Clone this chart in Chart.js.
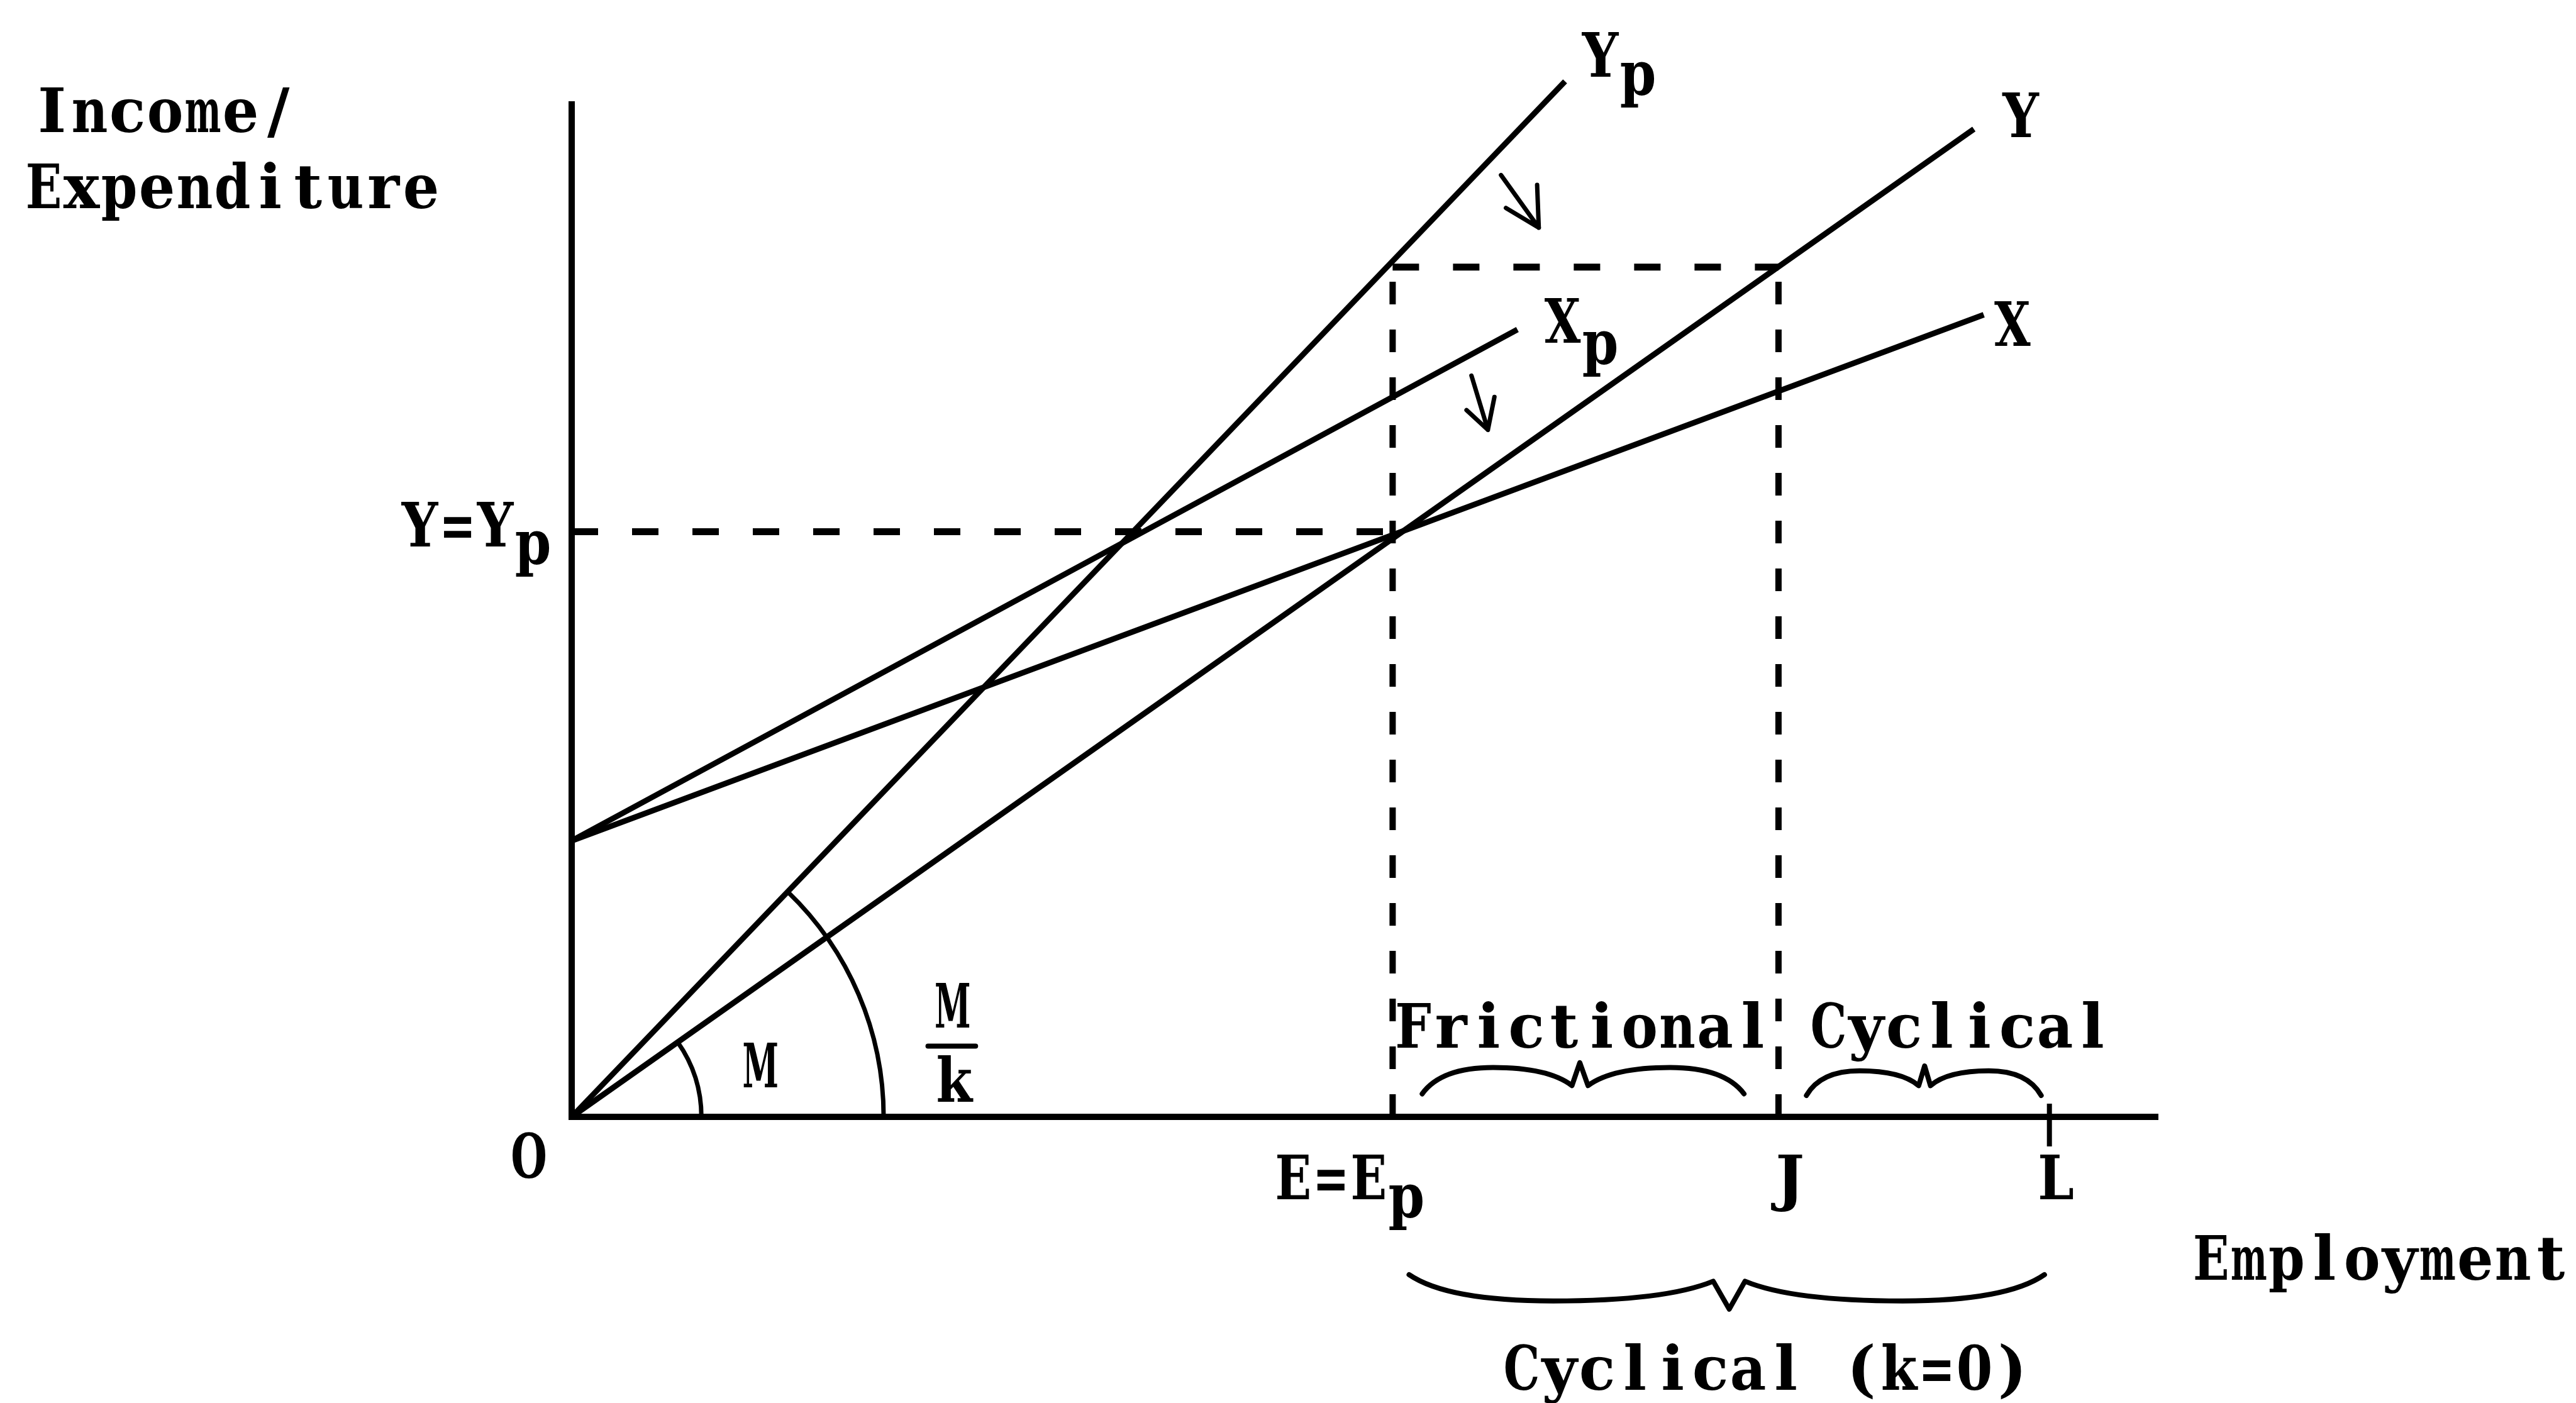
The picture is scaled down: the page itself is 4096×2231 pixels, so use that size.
<!DOCTYPE html>
<html>
<head>
<meta charset="utf-8">
<script src="https://cdn.jsdelivr.net/npm/chart.js@4.4.1/dist/chart.umd.min.js"></script>
<style>
  html, body { margin: 0; padding: 0; background: #fff; }
  #wrap { width: 4096px; height: 2231px; position: relative; }
</style>
</head>
<body>
<div id="wrap"><canvas id="keynesChart"></canvas></div>
<script>
// income / expenditure schedules (employment on x, income on y)
const lineNames = ["Yp", "Y", "Xp", "X"];
const lineStartX = [0, 0, 0, 0];
const lineStartY = [0, 0, 1.68, 1.68];
const lineEndX = [6.05, 8.54, 5.76, 8.60];
const lineEndY = [6.30, 6.01, 4.79, 4.88];

// employment marks on the x axis
const employmentLabels = ["E=Ep", "J", "L"];
const employmentValues = [5.0, 7.35, 9.0];

// income levels (Y=Yp and the planned income at E)
const incomeLevelLabels = ["Y=Yp", ""];
const incomeLevels = [3.56, 5.17];

const axisMaxX = 9.66;
const axisMaxY = 6.16;

// typewriter look: serif glyphs set in fixed-width cells
const FONT = '"DejaVu Serif", "Liberation Serif", serif';
const FS = 97;
const CELL = 60;

const black = "#000";

const datasets = [];
lineNames.forEach((name, i) => {
  datasets.push({
    label: name,
    data: [{ x: lineStartX[i], y: lineStartY[i] }, { x: lineEndX[i], y: lineEndY[i] }],
    borderColor: black, borderWidth: 9, showLine: true, pointRadius: 0, clip: false
  });
});
const eX = employmentValues[0], jX = employmentValues[1], lX = employmentValues[2];
const dashed = [
  [{ x: 0, y: incomeLevels[0] }, { x: eX, y: incomeLevels[0] }],
  [{ x: eX, y: incomeLevels[1] }, { x: jX, y: incomeLevels[1] }]
];
const dashedV = [
  [{ x: eX, y: 0 }, { x: eX, y: incomeLevels[1] }],
  [{ x: jX, y: 0 }, { x: jX, y: incomeLevels[1] }]
];
dashed.forEach(d => datasets.push({
  data: d, borderColor: black, borderWidth: 11, borderDash: [42, 54],
  showLine: true, pointRadius: 0, clip: false
}));
dashedV.forEach(d => datasets.push({
  data: d, borderColor: black, borderWidth: 10, borderDash: [36, 40],
  showLine: true, pointRadius: 0, clip: false
}));
// small tick at L
datasets.push({
  data: [{ x: lX, y: 0.08 }, { x: lX, y: -0.18 }],
  borderColor: black, borderWidth: 8, showLine: true, pointRadius: 0, clip: false
});

// annotations (positions in data units)
const textLabels = [
  { t: "Income/", x: -3.28, y: 5.99, a: "left" },
  { t: "Expenditure", x: -3.33, y: 5.53, a: "left" },
  { t: "Y=Y", sub: "p", x: -1.04, y: 3.47, a: "left", drop: 28 },
  { t: "O", x: -0.26, y: -0.37, a: "center" },
  { t: "E=E", sub: "p", x: 4.28, y: -0.50, a: "left", drop: 29 },
  { t: "J", x: 7.42, y: -0.50, a: "center" },
  { t: "L", x: 9.04, y: -0.50, a: "center" },
  { t: "Employment", x: 9.87, y: -0.99, a: "left" },
  { t: "Cyclical (k=0)", x: 7.28, y: -1.66, a: "center" },
  { t: "Frictional", x: 5.01, y: 0.42, a: "left" },
  { t: "Cyclical", x: 7.54, y: 0.42, a: "left" },
  { t: "Y", sub: "p", x: 6.15, y: 6.33, a: "left", drop: 29 },
  { t: "Y", x: 8.71, y: 5.96, a: "left" },
  { t: "X", sub: "p", x: 5.92, y: 4.71, a: "left", drop: 34 },
  { t: "X", x: 8.66, y: 4.69, a: "left" },
  { t: "M", x: 1.15, y: 0.18, a: "center" },
  { t: "M", x: 2.32, y: 0.545, a: "center" },
  { t: "k", x: 2.33, y: 0.09, a: "center" }
];
const fractionBar = { x0: 2.17, x1: 2.46, y: 0.43 };
const angleArcs = [
  { r: 0.79, line: 1 },
  { r: 1.90, line: 0 }
];
const braces = [
  { x0: 5.18, xt: 6.14, x1: 7.14, yEnd: 0.14, yArch: 0.30, yValley: 0.19, yTip: 0.33 },
  { x0: 7.52, xt: 8.24, x1: 8.95, yEnd: 0.13, yArch: 0.28, yValley: 0.19, yTip: 0.31 },
  { x0: 5.10, xt: 7.05, x1: 8.97, yEnd: -0.96, yArch: -1.12, yValley: -1.00, yTip: -1.17 }
];
const arrows = [
  { from: [5.66, 5.73], to: [5.89, 5.41], heads: [[5.88, 5.67], [5.69, 5.53]] },
  { from: [5.48, 4.51], to: [5.58, 4.18], heads: [[5.62, 4.38], [5.45, 4.30]] }
];

// draws a string one glyph per fixed cell, squeezing wide glyphs
function typeText(ctx, text, x, y) {
  for (let i = 0; i < text.length; i++) {
    const ch = text[i];
    if (ch === " ") continue;
    const w = ctx.measureText(ch).width;
    const s = Math.min(1, (CELL * 0.96) / w);
    ctx.save();
    ctx.translate(x + i * CELL + CELL / 2, y);
    ctx.scale(s, 1);
    ctx.fillText(ch, -w / 2, 0);
    ctx.restore();
  }
}

const decorations = {
  id: "decorations",
  afterDraw(chart) {
    const ctx = chart.ctx;
    const xs = chart.scales.x, ys = chart.scales.y;
    const px = v => xs.getPixelForValue(v);
    const py = v => ys.getPixelForValue(v);
    ctx.save();
    ctx.strokeStyle = black;
    ctx.fillStyle = black;
    ctx.lineCap = "round";
    ctx.lineJoin = "round";

    // angle arcs at the origin
    const ox = px(0), oy = py(0);
    ctx.lineWidth = 7;
    angleArcs.forEach(a => {
      const i = a.line;
      const ang = Math.atan2(py(lineEndY[i]) - oy, px(lineEndX[i]) - ox);
      const r = px(a.r) - ox;
      ctx.beginPath();
      ctx.arc(ox, oy, r, ang, 0);
      ctx.stroke();
    });

    // braces
    ctx.lineWidth = 8;
    braces.forEach(b => {
      const x0 = px(b.x0), xt = px(b.xt), x1 = px(b.x1);
      const ye = py(b.yEnd), ya = py(b.yArch), yv = py(b.yValley), yt = py(b.yTip);
      const L = xt - x0, R = x1 - xt;
      ctx.beginPath();
      ctx.moveTo(x0, ye);
      ctx.quadraticCurveTo(x0 + 0.12 * L, ya, x0 + 0.45 * L, ya);
      ctx.quadraticCurveTo(xt - 0.2 * L, ya, xt - 0.05 * L, yv);
      ctx.lineTo(xt, yt);
      ctx.lineTo(xt + 0.05 * R, yv);
      ctx.quadraticCurveTo(xt + 0.2 * R, ya, xt + 0.55 * R, ya);
      ctx.quadraticCurveTo(x1 - 0.12 * R, ya, x1, ye);
      ctx.stroke();
    });

    // shift arrows
    ctx.lineWidth = 7;
    arrows.forEach(a => {
      ctx.beginPath();
      ctx.moveTo(px(a.from[0]), py(a.from[1]));
      ctx.lineTo(px(a.to[0]), py(a.to[1]));
      a.heads.forEach(h => {
        ctx.moveTo(px(a.to[0]), py(a.to[1]));
        ctx.lineTo(px(h[0]), py(h[1]));
      });
      ctx.stroke();
    });

    // fraction bar of M/k
    ctx.lineWidth = 8;
    ctx.beginPath();
    ctx.moveTo(px(fractionBar.x0), py(fractionBar.y));
    ctx.lineTo(px(fractionBar.x1), py(fractionBar.y));
    ctx.stroke();

    // text
    ctx.font = "bold " + FS + "px " + FONT;
    ctx.textBaseline = "alphabetic";
    ctx.textAlign = "left";
    textLabels.forEach(l => {
      const w = l.t.length * CELL;
      let x = px(l.x);
      if (l.a === "center") x -= w / 2;
      else if (l.a === "right") x -= w;
      const y = py(l.y);
      typeText(ctx, l.t, x, y);
      if (l.sub) typeText(ctx, l.sub, x + w, y + l.drop);
    });
    ctx.restore();
  }
};

const ctx = document.getElementById("keynesChart").getContext("2d");
const chart = new Chart(ctx, {
  type: "scatter",
  data: { datasets: datasets },
  options: {
    responsive: true,
    maintainAspectRatio: false,
    animation: false,
    events: [],
    layout: { padding: { left: 909, right: 665, top: 166, bottom: 455 } },
    scales: {
      x: {
        type: "linear", min: 0, max: axisMaxX,
        grid: { display: false, drawTicks: false },
        ticks: { display: false },
        border: { display: true, color: black, width: 10 },
        afterFit: s => { s.height = 0; }
      },
      y: {
        type: "linear", min: 0, max: axisMaxY,
        grid: { display: false, drawTicks: false },
        ticks: { display: false },
        border: { display: true, color: black, width: 10 },
        afterFit: s => { s.width = 0; }
      }
    },
    plugins: {
      legend: { display: false },
      tooltip: { enabled: false }
    }
  },
  plugins: [decorations]
});
</script>
</body>
</html>
